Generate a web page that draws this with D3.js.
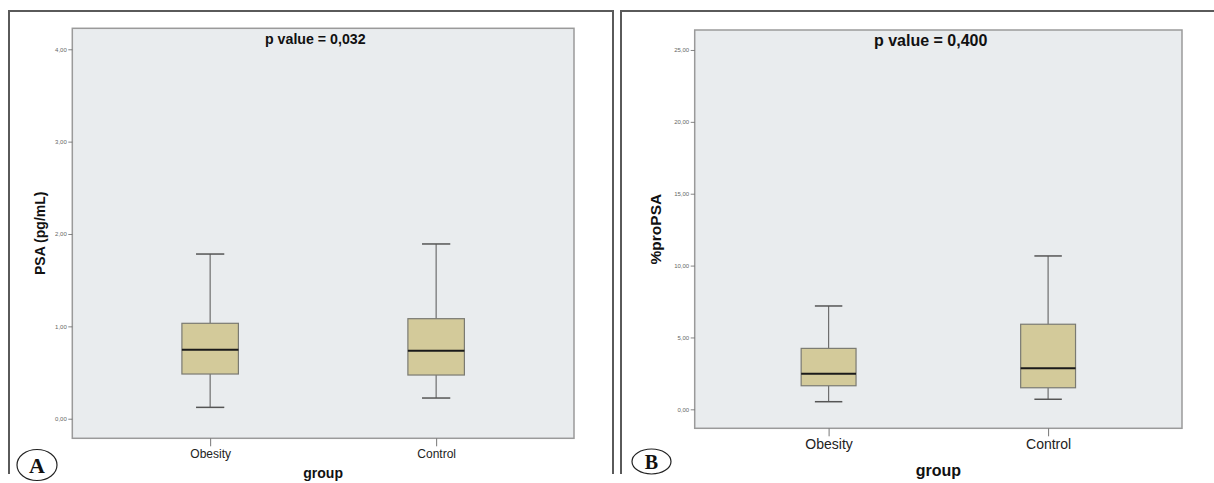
<!DOCTYPE html>
<html>
<head>
<meta charset="utf-8">
<script src="https://cdn.jsdelivr.net/npm/d3@7/dist/d3.min.js"></script>
<style>
html,body{margin:0;padding:0;background:#fff;}
svg{display:block;}
</style>
</head>
<body>
<svg id="chart" width="1214" height="483"></svg>
<script>
// ---- data ----
const groups = ["Obesity", "Control"];
// [lowerWhisker, Q1, median, Q3, upperWhisker]
const psaStats = [
  [0.123, 0.484, 0.747, 1.033, 1.783],
  [0.224, 0.473, 0.736, 1.083, 1.892]
];
const proPsaStats = [
  [0.53, 1.64, 2.48, 4.24, 7.19],
  [0.70, 1.50, 2.85, 5.92, 10.67]
];
const psaTicks = [0, 1, 2, 3, 4];
const proPsaTicks = [0, 5, 10, 15, 20, 25];
const pValueA = "p value = 0,032";
const pValueB = "p value = 0,400";
const yLabelA = "PSA (pg/mL)";
const yLabelB = "%proPSA";
const xLabel = "group";

const svg = d3.select("#chart");
const fmt = v => d3.format(".2f")(v).replace(".", ",");

function panel(cfg) {
  const g = svg.append("g");
  // outer border (open at the bottom)
  const ob = cfg.outer;
  const path = ob.right != null
    ? `M${ob.left},${ob.bottom}V${ob.top}H${ob.right}V${ob.bottom}`
    : `M${ob.left},${ob.bottom}V${ob.top}H1214`;
  g.append("path").attr("d", path).attr("fill", "none")
    .attr("stroke", "#5a5a5a").attr("stroke-width", 2);

  const p = cfg.plot;
  const x = d3.scalePoint().domain(groups).range([p.left, p.right]).padding(0.61);
  const y = d3.scaleLinear().domain(cfg.domain).range([p.bottom, p.top]);

  g.append("rect").attr("x", p.left).attr("y", p.top)
    .attr("width", p.right - p.left).attr("height", p.bottom - p.top)
    .attr("fill", "#e9ecee").attr("stroke", "#9a9a9a").attr("stroke-width", 1.5);

  // y axis
  const ya = d3.axisLeft(y).tickValues(cfg.ticks).tickFormat(fmt).tickSize(4).tickPadding(1.5);
  const yg = g.append("g").attr("transform", `translate(${p.left},0)`).call(ya);
  yg.select(".domain").remove();
  yg.selectAll(".tick line").attr("stroke", "#666").attr("stroke-width", 0.8);
  yg.selectAll(".tick text").attr("fill", "#666").style("font-family", "Liberation Sans, Arial, sans-serif")
    .style("font-size", cfg.tickFont + "px");

  // x axis
  const xa = d3.axisBottom(x).tickSize(8).tickPadding(3);
  const xg = g.append("g").attr("transform", `translate(0,${p.bottom})`).call(xa);
  xg.select(".domain").remove();
  xg.selectAll(".tick line").attr("stroke", "#777").attr("stroke-width", 1);
  xg.selectAll(".tick text").attr("fill", "#222").style("font-family", "Liberation Sans, Arial, sans-serif")
    .style("font-size", cfg.catFont + "px");

  const step = x.step();
  const bw = step * 0.25;
  const cw = bw / 2;
  groups.forEach((grp, i) => {
    const s = cfg.stats[i];
    const cx = x(grp);
    // whiskers
    g.append("line").attr("x1", cx).attr("x2", cx).attr("y1", y(s[4])).attr("y2", y(s[3]))
      .attr("stroke", "#6e6e6e").attr("stroke-width", 1.2);
    g.append("line").attr("x1", cx).attr("x2", cx).attr("y1", y(s[1])).attr("y2", y(s[0]))
      .attr("stroke", "#6e6e6e").attr("stroke-width", 1.2);
    g.append("line").attr("x1", cx - cw / 2).attr("x2", cx + cw / 2).attr("y1", y(s[4])).attr("y2", y(s[4]))
      .attr("stroke", "#555").attr("stroke-width", 1.5);
    g.append("line").attr("x1", cx - cw / 2).attr("x2", cx + cw / 2).attr("y1", y(s[0])).attr("y2", y(s[0]))
      .attr("stroke", "#555").attr("stroke-width", 1.5);
    // box
    g.append("rect").attr("x", cx - bw / 2).attr("y", y(s[3]))
      .attr("width", bw).attr("height", y(s[1]) - y(s[3]))
      .attr("fill", "#d3ca9a").attr("stroke", "#7a7a72").attr("stroke-width", 1.2);
    // median
    g.append("line").attr("x1", cx - bw / 2).attr("x2", cx + bw / 2).attr("y1", y(s[2])).attr("y2", y(s[2]))
      .attr("stroke", "#1a1a1a").attr("stroke-width", 2);
  });

  // p value
  g.append("text").attr("x", cfg.pPos[0]).attr("y", cfg.pPos[1])
    .style("font-family", "Liberation Sans, Arial, sans-serif").style("font-weight", "bold")
    .style("font-size", cfg.pFont + "px").attr("fill", "#111").text(cfg.pText);

  // y label
  const cy = (p.top + p.bottom) / 2;
  g.append("text").attr("transform", `translate(${cfg.yLabX},${cy}) rotate(-90)`)
    .attr("text-anchor", "middle")
    .style("font-family", "Liberation Sans, Arial, sans-serif").style("font-weight", "bold")
    .style("font-size", cfg.yLabFont + "px").attr("fill", "#111").text(cfg.yLabel);

  // x label
  g.append("text").attr("x", (p.left + p.right) / 2).attr("y", cfg.xLabY)
    .attr("text-anchor", "middle")
    .style("font-family", "Liberation Sans, Arial, sans-serif").style("font-weight", "bold")
    .style("font-size", cfg.xLabFont + "px").attr("fill", "#111").text(xLabel);

  // panel letter
  const L = cfg.letter;
  g.append("ellipse").attr("cx", L.cx).attr("cy", L.cy).attr("rx", L.rx).attr("ry", L.ry)
    .attr("fill", "none").attr("stroke", "#222").attr("stroke-width", 1.2);
  g.append("text").attr("x", L.cx).attr("y", L.cy + L.size * 0.36).attr("text-anchor", "middle")
    .style("font-family", "Liberation Serif, Times New Roman, serif").style("font-weight", "bold")
    .style("font-size", L.size + "px").attr("fill", "#111").text(L.t);
}

panel({
  outer: {left: 9, top: 11, right: 613, bottom: 474},
  plot: {left: 72.3, right: 574, top: 28.3, bottom: 438.3},
  domain: [-0.212, 4.227],
  ticks: psaTicks,
  stats: psaStats,
  tickFont: 6, catFont: 12,
  pText: pValueA, pPos: [265, 44], pFont: 14.2,
  yLabel: yLabelA, yLabX: 45, yLabFont: 14,
  xLabY: 478, xLabFont: 14,
  letter: {cx: 37, cy: 465, rx: 20, ry: 15.5, t: "A", size: 22}
});

panel({
  outer: {left: 621, top: 11, right: null, bottom: 474},
  plot: {left: 694.7, right: 1182, top: 30, bottom: 428.3},
  domain: [-1.32, 26.39],
  ticks: proPsaTicks,
  stats: proPsaStats,
  tickFont: 6, catFont: 14,
  pText: pValueB, pPos: [874, 45.5], pFont: 16,
  yLabel: yLabelB, yLabX: 661, yLabFont: 15.5,
  xLabY: 475.5, xLabFont: 16,
  letter: {cx: 651.5, cy: 461.5, rx: 19.5, ry: 12.5, t: "B", size: 20}
});
</script>
</body>
</html>
